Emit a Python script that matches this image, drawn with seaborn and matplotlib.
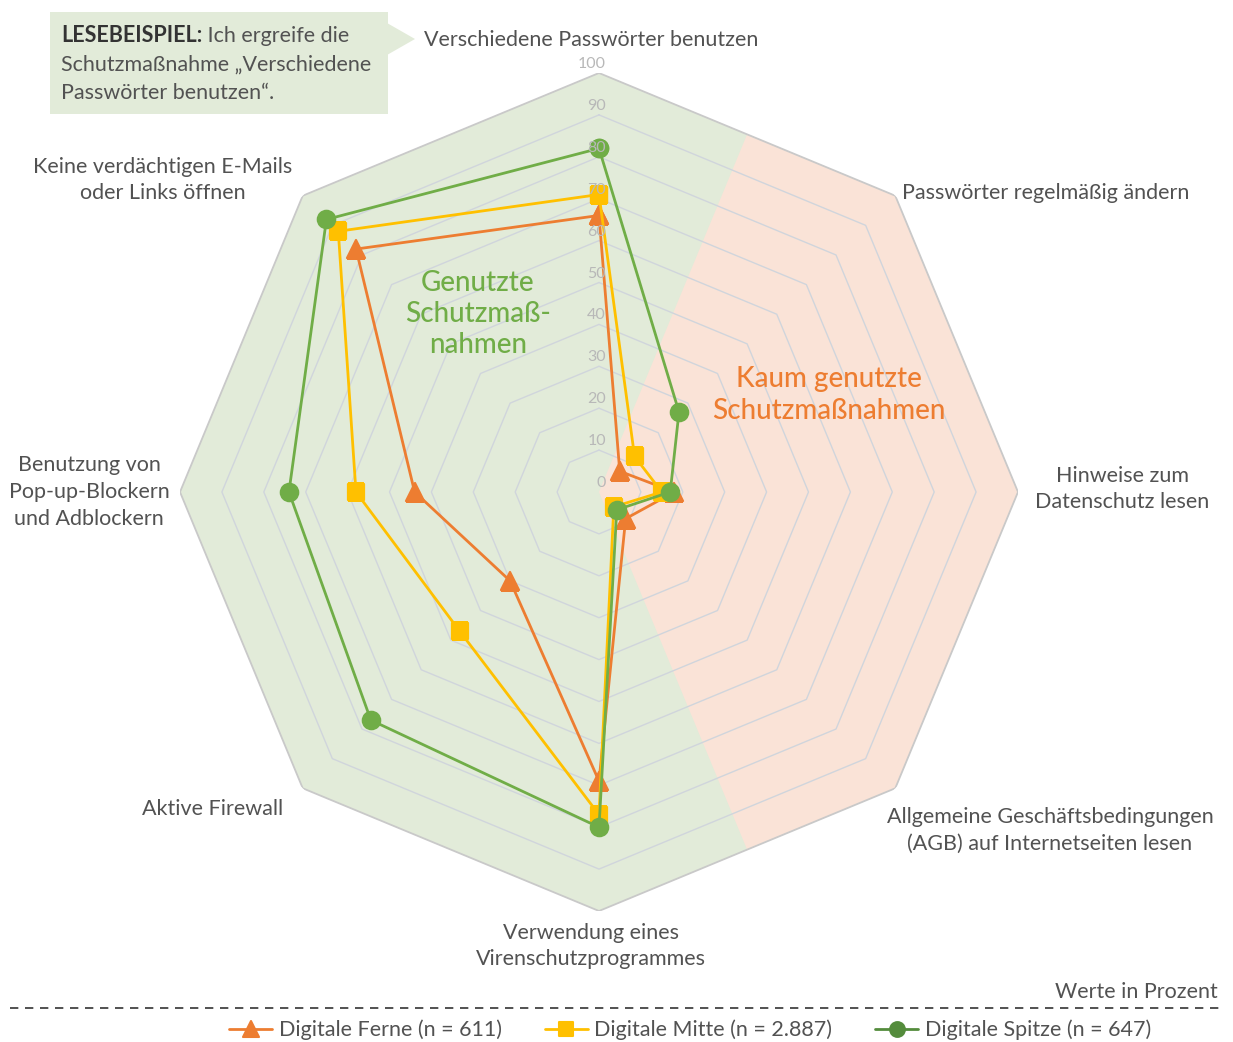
import numpy as np
import pandas as pd
import matplotlib
matplotlib.use("Agg")
import matplotlib.pyplot as plt
from matplotlib.lines import Line2D
from matplotlib.markers import MarkerStyle
from matplotlib.patches import Polygon, Rectangle
import seaborn as sns

# ---------------------------------------------------------------- data
kategorien = [
    "Verschiedene Passwörter benutzen",
    "Passwörter regelmäßig ändern",
    "Hinweise zum\nDatenschutz lesen",
    "Allgemeine Geschäftsbedingungen\n(AGB) auf Internetseiten lesen",
    "Verwendung eines\nVirenschutzprogrammes",
    "Aktive Firewall",
    "Benutzung von\nPop-up-Blockern\nund Adblockern",
    "Keine verdächtigen E-Mails\noder Links öffnen",
]
gruppen = ["Digitale Ferne (n = 611)", "Digitale Mitte (n = 2.887)", "Digitale Spitze (n = 647)"]
ferne = [66, 7, 18, 9, 69, 30, 44, 82]
mitte = [71, 12, 15, 5, 77, 47, 58, 88]
spitze = [82, 27, 17, 6, 80, 77, 74, 92]
skala = [0, 10, 20, 30, 40, 50, 60, 70, 80, 90, 100]

farben = ["#ed7d31", "#ffc000", "#70ad47"]
legend_farben = ["#ed7d31", "#ffc000", "#548c3c"]
marker = ["^", "s", "o"]
marker_groesse = [13.5, 12.0, 12.5]

# ---------------------------------------------------------------- theme
sns.set_theme(style="white")
plt.rcParams["font.family"] = ["Lato", "DejaVu Sans"]
TXT = "#525252"
FS = 15.5

W, H = 1233, 1042
fig = plt.figure(figsize=(W / 100, H / 100), dpi=100)


def fx(x):
    return x / W


def fy(y):
    return 1 - y / H


# polar axes: centre (599, 492) px, radius 419 px for 100 %
cx, cy, R = 599, 492, 419
ax = fig.add_axes([fx(cx - R), fy(cy + R), 2 * R / W, 2 * R / H], projection="polar")
ax.set_theta_zero_location("N")
ax.set_theta_direction(-1)
ax.set_ylim(0, 100)
ax.grid(False)
ax.spines["polar"].set_visible(False)
ax.set_xticks([])
ax.set_yticks([])
ax.patch.set_alpha(0)

n = len(kategorien)
winkel = np.arange(n) * 2 * np.pi / n
winkel_zu = np.append(winkel, 2 * np.pi)

# background: green octagon with salmon wedge for the less used measures
ax.fill(winkel, [100] * n, color="#e2ebd9", zorder=0, lw=0)
halb = np.pi / n
mitte_r = 100 * np.cos(halb)
keil_t = [0, halb, winkel[1], winkel[2], winkel[3], winkel[3] + halb]
keil_r = [0, mitte_r, 100, 100, 100, mitte_r]
ax.fill(keil_t, keil_r, color="#fae3d7", zorder=0.5, lw=0)

# octagonal rings
for v in skala[1:]:
    if v == 100:
        ax.plot(winkel_zu, [v] * (n + 1), color="#c9c9c9", lw=1.3, zorder=1)
    else:
        ax.plot(winkel_zu, [v] * (n + 1), color="#d0d5dc", lw=1.0, zorder=1)

# data lines
rows = []
for g, werte in zip(gruppen, [ferne, mitte, spitze]):
    for t, w in zip(winkel_zu, werte + werte[:1]):
        rows.append({"gruppe": g, "theta": t, "wert": w})
df = pd.DataFrame(rows)

n_vorher = len(ax.lines)
sns.lineplot(
    data=df, x="theta", y="wert", hue="gruppe", style="gruppe",
    hue_order=gruppen, style_order=gruppen, palette=farben,
    markers=marker, dashes=False, sort=False, estimator=None,
    lw=2.0, legend=False, ax=ax, zorder=3,
)
for i, line in enumerate(ax.lines[n_vorher:]):
    line.set_marker(MarkerStyle(marker[i], joinstyle="round"))
    line.set_markersize(marker_groesse[i])
    line.set_markeredgewidth(1.6)
    line.set_markeredgecolor(farben[i])
    line.set_markerfacecolor(farben[i])
    line.set_zorder(3 + i)
ax.set_xlabel("")
ax.set_ylabel("")
ax.set_ylim(0, 100)

# radial scale along the top axis
for v in skala:
    ax.annotate(str(v), xy=(0, v), xytext=(7, 9), textcoords="offset pixels",
                ha="right", va="center", color="#b8b8b8", fontsize=11.5, zorder=10)

# ---------------------------------------------------------------- labels
LBL = dict(fontsize=FS, color=TXT, linespacing=1.42)
fig.text(fx(591), fy(40), kategorien[0], ha="center", va="center", **LBL)
fig.text(fx(902), fy(193), kategorien[1], ha="left", va="center", **LBL)
fig.text(fx(1122), fy(489), kategorien[2], ha="center", va="center", multialignment="center", **LBL)
fig.text(fx(1050), fy(830), kategorien[3], ha="center", va="center", multialignment="center", **LBL)
fig.text(fx(591), fy(946), kategorien[4], ha="center", va="center", multialignment="center", **LBL)
fig.text(fx(213), fy(809), kategorien[5], ha="center", va="center", **LBL)
fig.text(fx(89), fy(492), kategorien[6], ha="center", va="center", multialignment="center", **LBL)
fig.text(fx(163), fy(180), kategorien[7], ha="center", va="center", multialignment="center", **LBL)

fig.text(fx(478), fy(314), "Genutzte\nSchutzmaß-\nnahmen", ha="center", va="center",
         multialignment="center", fontsize=20, color="#70ad47", fontweight="medium",
         linespacing=1.25)
fig.text(fx(829), fy(395), "Kaum genutzte\nSchutzmaßnahmen", ha="center", va="center",
         multialignment="center", fontsize=20, color="#ed7d31", fontweight="medium",
         linespacing=1.25)

# reading example box with pointer
fig.patches.append(Rectangle((fx(50), fy(114)), fx(388) - fx(50), fy(12) - fy(114),
                             transform=fig.transFigure, color="#e2ebd9", lw=0, zorder=0))
fig.patches.append(Polygon([(fx(387), fy(23)), (fx(415), fy(39)), (fx(387), fy(55))],
                           closed=True, transform=fig.transFigure, color="#e2ebd9", lw=0, zorder=0))
BOX = dict(fontsize=FS, color=TXT)
t_fett = fig.text(fx(61), fy(36), "LESEBEISPIEL:", ha="left", va="center",
                  fontsize=FS, color="#333333", fontweight="bold")
fig.canvas.draw()
bb = t_fett.get_window_extent()
fig.text(bb.x1 / W, fy(36), " Ich ergreife die", ha="left", va="center", **BOX)
fig.text(fx(61), fy(65), "Schutzmaßnahme „Verschiedene", ha="left", va="center", **BOX)
fig.text(fx(61), fy(93), "Passwörter benutzen“.", ha="left", va="center", **BOX)

# footer
fig.text(fx(1218), fy(992), "Werte in Prozent", ha="right", va="center", **LBL)
fig.add_artist(Line2D([fx(10), fx(1220)], [fy(1008), fy(1008)], transform=fig.transFigure,
                      color="#333333", lw=1.2, dashes=(5, 4)))

handles = [
    Line2D([], [], color=c, lw=2.0, marker=MarkerStyle(m, joinstyle="round"), markersize=s * 0.85,
           markeredgewidth=1.5, markeredgecolor=c, markerfacecolor=c)
    for c, m, s in zip(legend_farben, marker, marker_groesse)
]
fig.legend(handles, gruppen, loc="center", bbox_to_anchor=(fx(690), fy(1030)), ncol=3,
           frameon=False, handlelength=2.0, handletextpad=0.3, columnspacing=2.0,
           prop=dict(size=FS), labelcolor=TXT)

fig.savefig("out.png", dpi=100)
